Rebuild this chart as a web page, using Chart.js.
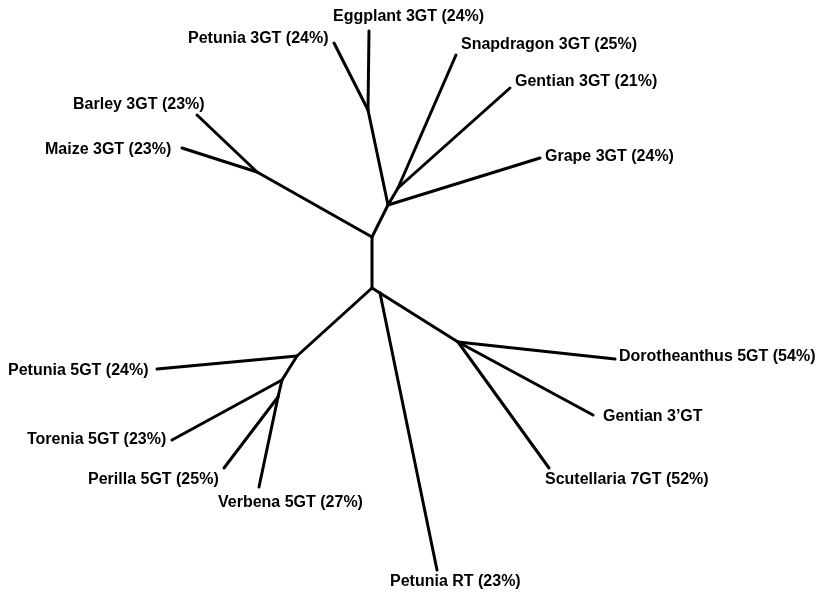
<!DOCTYPE html>
<html lang="en">
<head>
  <meta charset="UTF-8" />
  <title>Glycosyltransferase tree</title>
  <script src="https://cdn.jsdelivr.net/npm/chart.js"></script>
  <style>
    body {
      margin: 0;
      background: #fff;
    }
    #wrap {
      width: 817px;
      height: 597px;
    }
  </style>
</head>
<body>

  <div id="wrap"><canvas id="treeChart" width="817" height="597"></canvas></div>

  <script>
    // tree nodes (layout units)
    const nodeNames = ['A', 'B', 'C', 'D', 'E', 'F', 'G', 'H', 'I', 'J', 'K',
      'eggplant', 'pet3', 'snap', 'gent3', 'grape', 'barley', 'maize',
      'pet5', 'torenia', 'perilla', 'verbena', 'petRT', 'doro', 'gent3p', 'scut'];
    const nodeX = [368, 388, 398, 372, 257, 372, 297, 282, 278, 380, 458,
      369, 334, 456, 510, 540, 197, 182,
      157, 172, 224, 259, 437, 615, 593, 549];
    const nodeY = [110, 205, 188, 237, 172, 288, 356, 380, 397, 293, 342,
      31, 43, 55, 88, 158, 115, 148,
      369, 440, 468, 487, 570, 359, 415, 468];

    // branches
    const edgeFrom = ['A', 'A', 'A', 'C', 'C', 'C', 'B', 'B', 'E', 'E', 'E', 'D',
      'F', 'G', 'G', 'H', 'H', 'I', 'I', 'F', 'J', 'J', 'K', 'K', 'K'];
    const edgeTo = ['eggplant', 'pet3', 'B', 'snap', 'gent3', 'B', 'grape', 'D', 'barley', 'maize', 'D', 'F',
      'G', 'pet5', 'H', 'torenia', 'I', 'perilla', 'verbena', 'J', 'K', 'petRT', 'doro', 'gent3p', 'scut'];

    // leaf labels
    const labelText = ['Eggplant 3GT (24%)', 'Petunia 3GT (24%)', 'Snapdragon 3GT (25%)',
      'Gentian 3GT (21%)', 'Grape 3GT (24%)', 'Barley 3GT (23%)', 'Maize 3GT (23%)',
      'Petunia 5GT (24%)', 'Torenia 5GT (23%)', 'Perilla 5GT (25%)', 'Verbena 5GT (27%)',
      'Petunia RT (23%)', 'Dorotheanthus 5GT (54%)', 'Gentian 3\u2019GT', 'Scutellaria 7GT (52%)'];
    const labelX = [333, 188, 461, 515, 545, 73, 45, 8, 27, 88, 218, 390, 619, 603, 545];
    const labelY = [17, 39, 45, 82, 157, 105, 150, 371, 440, 480, 503, 582, 357, 417, 480];

    const pt = name => {
      const i = nodeNames.indexOf(name);
      return { x: nodeX[i], y: nodeY[i] };
    };

    const datasets = edgeFrom.map((from, i) => ({
      data: [pt(from), pt(edgeTo[i])],
      showLine: true,
      borderColor: '#000',
      borderWidth: 3,
      pointRadius: 0,
      borderCapStyle: 'round',
      fill: false
    }));

    const labelPlugin = {
      id: 'leafLabels',
      afterDatasetsDraw(chart) {
        const ctx = chart.ctx;
        const xs = chart.scales.x;
        const ys = chart.scales.y;
        ctx.save();
        ctx.fillStyle = '#000';
        ctx.font = 'bold 16px "Liberation Sans", Arial, sans-serif';
        ctx.textAlign = 'left';
        ctx.textBaseline = 'middle';
        labelText.forEach((t, i) => {
          ctx.fillText(t, xs.getPixelForValue(labelX[i]), ys.getPixelForValue(labelY[i]));
        });
        ctx.restore();
      }
    };

    new Chart(document.getElementById('treeChart'), {
      type: 'scatter',
      data: { datasets: datasets },
      options: {
        responsive: false,
        animation: false,
        layout: { padding: 0 },
        scales: {
          x: { type: 'linear', min: 0, max: 817, display: false },
          y: { type: 'linear', min: 0, max: 597, reverse: true, display: false }
        },
        plugins: {
          legend: { display: false },
          tooltip: { enabled: false }
        }
      },
      plugins: [labelPlugin]
    });
  </script>

</body>
</html>
